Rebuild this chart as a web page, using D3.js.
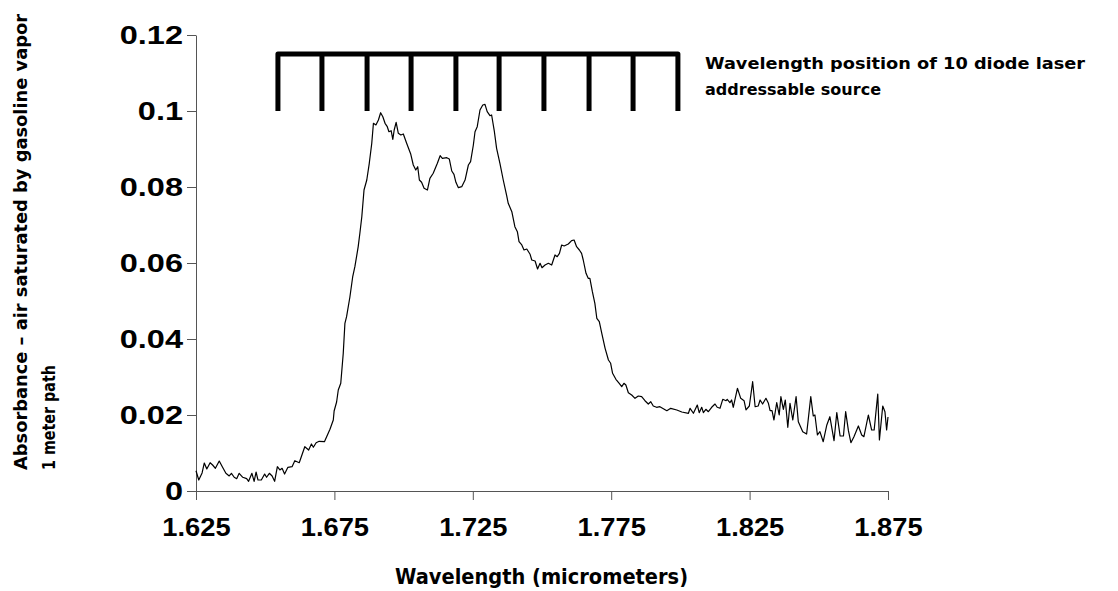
<!DOCTYPE html>
<html>
<head>
<meta charset="utf-8">
<script src="https://cdn.jsdelivr.net/npm/d3@7"></script>
<style>
  html, body { margin: 0; padding: 0; background: #fff; }
  svg { display: block; }
</style>
</head>
<body>
<svg id="chart" width="1118" height="591"></svg>
<script>
// ---- data ----
const wavelength = [
1.6250,1.6260,1.6272,1.6280,1.6289,1.6301,1.6310,1.6320,1.6334,1.6346,1.6358,1.6370,1.6378,1.6388,1.6397,1.6406,1.6419,1.6433,1.6440,1.6452,
1.6460,1.6467,1.6474,1.6486,1.6498,1.6505,1.6515,1.6525,1.6534,1.6544,1.6553,1.6561,1.6570,1.6582,1.6597,1.6607,1.6623,1.6643,1.6657,1.6667,
1.6674,1.6684,1.6695,1.6714,1.6722,1.6734,1.6746,1.6749,1.6758,1.6764,1.6773,1.6779,1.6782,1.6788,1.6794,1.6806,1.6816,1.6824,1.6836,1.6842,
1.6849,1.6857,1.6867,1.6876,1.6885,1.6891,1.6900,1.6909,1.6917,1.6925,1.6933,1.6941,1.6947,1.6955,1.6961,1.6966,1.6973,1.6981,1.6990,1.6999,
1.7011,1.7026,1.7035,1.7044,1.7051,1.7057,1.7065,1.7074,1.7086,1.7095,1.7107,1.7122,1.7132,1.7140,1.7156,1.7165,1.7174,1.7182,1.7189,1.7198,
1.7210,1.7222,1.7234,1.7242,1.7252,1.7258,1.7266,1.7276,1.7286,1.7294,1.7302,1.7312,1.7318,1.7328,1.7336,1.7348,1.7360,1.7372,1.7378,1.7391,
1.7402,1.7411,1.7417,1.7427,1.7435,1.7445,1.7457,1.7463,1.7475,1.7484,1.7493,1.7500,1.7511,1.7523,1.7535,1.7547,1.7555,1.7563,1.7571,1.7580,
1.7595,1.7607,1.7616,1.7625,1.7635,1.7643,1.7649,1.7659,1.7667,1.7673,1.7682,1.7691,1.7698,1.7707,1.7716,1.7728,1.7740,1.7748,1.7755,1.7767,
1.7779,1.7788,1.7796,1.7803,1.7812,1.7824,1.7836,1.7848,1.7860,1.7872,1.7884,1.7893,1.7902,1.7914,1.7926,1.7951,1.7965,1.7987,1.8005,1.8029,
1.8035,1.8047,1.8061,1.8068,1.8077,1.8083,1.8092,1.8101,1.8113,1.8125,1.8133,1.8143,1.8153,1.8165,1.8169,1.8179,1.8185,1.8191,1.8206,1.8218,
1.8230,1.8237,1.8249,1.8261,1.8270,1.8281,1.8288,1.8297,1.8309,1.8318,1.8324,1.8331,1.8338,1.8348,1.8357,1.8363,1.8372,1.8379,1.8388,1.8396,
1.8406,1.8418,1.8426,1.8442,1.8456,1.8471,1.8480,1.8486,1.8495,1.8504,1.8516,1.8529,1.8540,1.8555,1.8565,1.8577,1.8589,1.8597,1.8607,1.8616,
1.8627,1.8643,1.8655,1.8663,1.8679,1.8691,1.8700,1.8713,1.8719,1.8731,1.8739,1.8745,1.8750
];
const absorbance = [
0.00534,0.00289,0.00474,0.00737,0.00579,0.00745,0.00684,0.00597,0.00789,0.00624,0.00466,0.00395,0.00466,0.00361,0.00324,0.00466,0.00361,0.00324,0.00255,0.00466,
0.00255,0.00500,0.00289,0.00289,0.00447,0.00361,0.00466,0.00395,0.00255,0.00639,0.00553,0.00597,0.00447,0.00624,0.00639,0.00797,0.00745,0.01166,0.01079,0.01237,
0.01150,0.01271,0.01308,0.01297,0.01429,0.01624,0.01868,0.02105,0.02342,0.02658,0.02834,0.03361,0.03624,0.04413,0.04587,0.05105,0.05632,0.05903,0.06429,0.06782,
0.07218,0.07921,0.08184,0.08624,0.09150,0.09676,0.09632,0.09763,0.09955,0.09850,0.09676,0.09587,0.09455,0.09482,0.09255,0.09500,0.09703,0.09413,0.09368,0.09395,
0.09150,0.08861,0.08579,0.08447,0.08534,0.08184,0.08124,0.07966,0.07921,0.08229,0.08361,0.08624,0.08824,0.08755,0.08771,0.08737,0.08421,0.08334,0.08124,0.07982,
0.08008,0.08184,0.08579,0.08666,0.09105,0.09455,0.09587,0.10026,0.10158,0.10176,0.09982,0.09876,0.09895,0.09455,0.09018,0.08624,0.08184,0.07789,0.07571,0.07350,
0.06955,0.06824,0.06561,0.06474,0.06342,0.06368,0.06229,0.06079,0.06053,0.05842,0.05992,0.05876,0.05947,0.05992,0.05947,0.06211,0.06166,0.06255,0.06474,0.06447,
0.06500,0.06587,0.06605,0.06429,0.06342,0.06255,0.06079,0.05729,0.05597,0.05597,0.05245,0.04939,0.04545,0.04455,0.04150,0.03755,0.03447,0.03361,0.03097,0.02939,
0.02834,0.02745,0.02834,0.02789,0.02587,0.02526,0.02439,0.02500,0.02482,0.02376,0.02289,0.02350,0.02237,0.02203,0.02218,0.02113,0.02176,0.02132,0.02079,0.02045,
0.02176,0.02045,0.02263,0.02061,0.02203,0.02061,0.02150,0.02087,0.02203,0.02289,0.02203,0.02176,0.02413,0.02376,0.02413,0.02324,0.02395,0.02203,0.02703,0.02439,
0.02376,0.02132,0.02237,0.02876,0.02218,0.02237,0.02395,0.02289,0.02439,0.02308,0.02113,0.02113,0.01868,0.02324,0.02000,0.02482,0.02150,0.02395,0.01676,0.02308,
0.01868,0.02482,0.01824,0.01561,0.01500,0.02482,0.01974,0.02000,0.01474,0.01561,0.01297,0.01737,0.01955,0.01324,0.02061,0.01447,0.01447,0.02087,0.01587,0.01271,
0.01429,0.01711,0.01474,0.01429,0.02000,0.01605,0.01605,0.02553,0.01342,0.02237,0.02087,0.01605,0.01947
];
const xTicks = [1.625, 1.675, 1.725, 1.775, 1.825, 1.875];
const xTickLabels = ["1.625", "1.675", "1.725", "1.775", "1.825", "1.875"];
const yTicks = [0, 0.02, 0.04, 0.06, 0.08, 0.1, 0.12];
const yTickLabels = ["0", "0.02", "0.04", "0.06", "0.08", "0.1", "0.12"];
const laserPositions = [1.6546, 1.6705, 1.6868, 1.7027, 1.7189, 1.7345, 1.7507, 1.7670, 1.7829, 1.7991];
const combBottom = 0.1, combTop = 0.115;
const annotationLines = ["Wavelength position of 10 diode laser", "addressable source"];
const yTitleLines = ["Absorbance \u2013 air saturated by gasoline vapor", "1 meter path"];
const xTitle = "Wavelength (micrometers)";

// ---- drawing ----
const svg = d3.select("#chart");
const x = d3.scaleLinear().domain([1.625, 1.875]).range([196, 888]);
const y = d3.scaleLinear().domain([0, 0.12]).range([491, 35]);
const tickFont = "'Liberation Sans', Arial, sans-serif";
const titleFont = "'DejaVu Sans', Verdana, sans-serif";
const axisColor = "#555";
const yStretch = 1.25, xStretch = 1.05;

// y axis
const yAxis = svg.append("g").attr("transform", `translate(${x.range()[0]},0)`)
  .call(d3.axisLeft(y).tickValues(yTicks).tickSizeInner(9).tickSizeOuter(0).tickPadding(4)
    .tickFormat((d, i) => yTickLabels[i]));
yAxis.select(".domain").attr("stroke", axisColor);
yAxis.selectAll(".tick line").attr("stroke", axisColor);
yAxis.selectAll(".tick text").attr("font-family", tickFont).attr("font-weight", "bold")
  .attr("font-size", 26).attr("fill", "#000")
  .attr("x", -13 / yStretch).attr("transform", `scale(${yStretch},1)`);

// x axis
const xAxis = svg.append("g").attr("transform", `translate(0,${y(0)})`)
  .call(d3.axisBottom(x).tickValues(xTicks).tickSizeInner(9).tickSizeOuter(0).tickPadding(18)
    .tickFormat((d, i) => xTickLabels[i]));
xAxis.select(".domain").attr("stroke", axisColor);
xAxis.selectAll(".tick line").attr("stroke", axisColor);
xAxis.selectAll(".tick text").attr("font-family", tickFont).attr("font-weight", "bold")
  .attr("font-size", 26).attr("fill", "#000")
  .attr("transform", `scale(${xStretch},1)`);

// spectrum line
const pts = wavelength.map((w, i) => [w, absorbance[i]]);
svg.append("path").datum(pts)
  .attr("fill", "none").attr("stroke", "#000").attr("stroke-width", 1.2)
  .attr("stroke-linejoin", "round")
  .attr("d", d3.line().x(d => x(d[0])).y(d => y(d[1])));

// laser comb
const comb = svg.append("g").attr("stroke", "#000").attr("stroke-width", 5).attr("fill", "none");
const first = laserPositions[0], last = laserPositions[laserPositions.length - 1];
comb.append("path")
  .attr("stroke-linejoin", "round")
  .attr("d", `M${x(first)},${y(combBottom)}V${y(combTop)}H${x(last)}V${y(combBottom)}`);
comb.selectAll("line.tooth").data(laserPositions.slice(1, -1)).join("line")
  .attr("class", "tooth")
  .attr("x1", d => x(d)).attr("x2", d => x(d))
  .attr("y1", y(combBottom)).attr("y2", y(combTop));

// annotation
svg.append("g").selectAll("text").data(annotationLines).join("text")
  .attr("x", 705).attr("y", (d, i) => 69 + i * 26)
  .attr("font-family", titleFont).attr("font-weight", "bold").attr("font-size", 16)
  .attr("textLength", (d, i) => i === 0 ? 380 : 176).attr("lengthAdjust", "spacingAndGlyphs")
  .text(d => d);

// y title
svg.append("g").selectAll("text").data(yTitleLines).join("text")
  .attr("transform", (d, i) => `translate(${i === 0 ? 27 : 55},470) rotate(-90)`)
  .attr("font-family", titleFont).attr("font-weight", "bold").attr("font-size", 17)
  .attr("textLength", (d, i) => i === 0 ? 456 : 105).attr("lengthAdjust", "spacingAndGlyphs")
  .text(d => d);

// x title
svg.append("text")
  .attr("x", 395).attr("y", 584)
  .attr("font-family", titleFont).attr("font-weight", "bold").attr("font-size", 22)
  .attr("textLength", 293).attr("lengthAdjust", "spacingAndGlyphs")
  .text(xTitle);
</script>
</body>
</html>
